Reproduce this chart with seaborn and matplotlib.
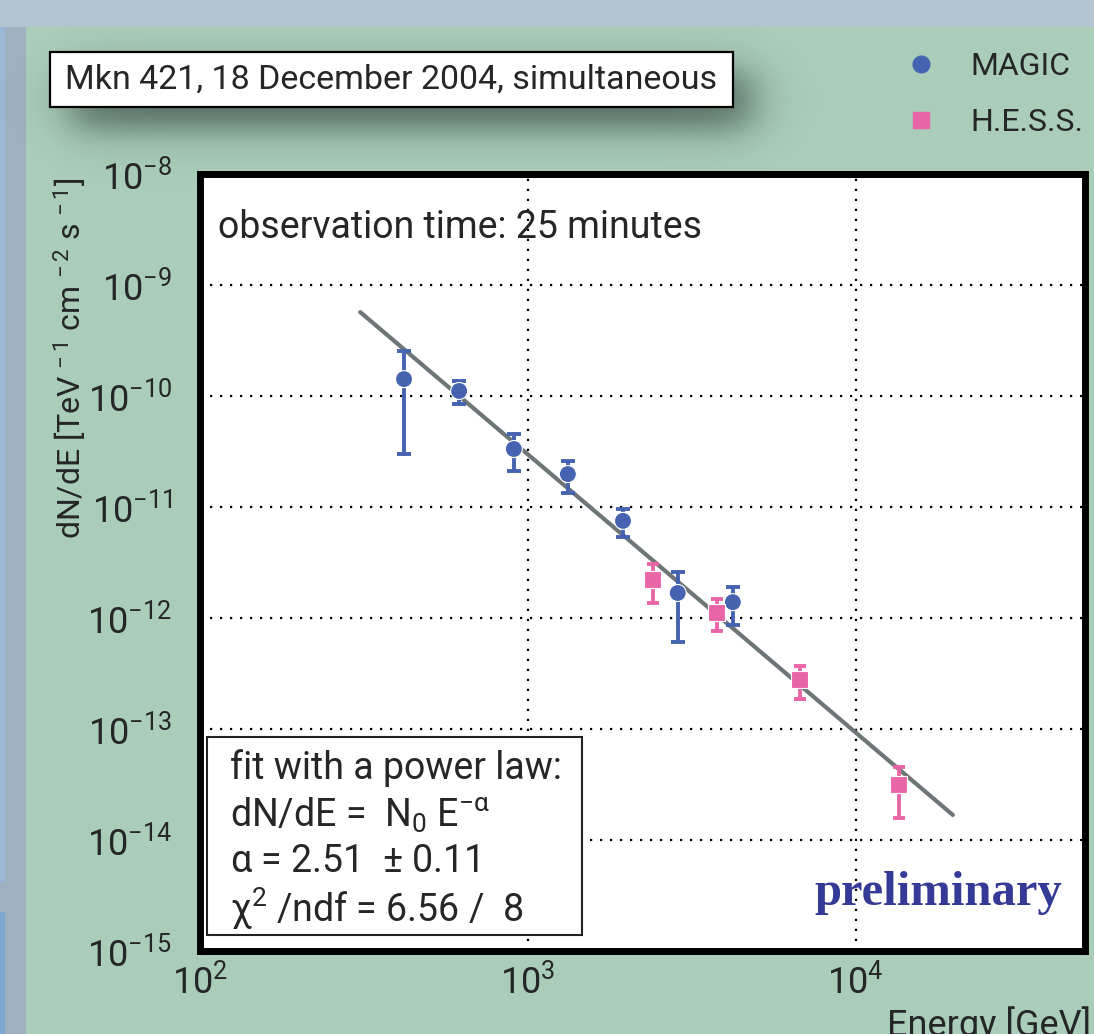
import numpy as np
import pandas as pd
import matplotlib
matplotlib.use("Agg")
import matplotlib.pyplot as plt
import seaborn as sns
from matplotlib.patches import Rectangle
from matplotlib.lines import Line2D
from matplotlib.ticker import LogLocator, FuncFormatter, NullFormatter

# ---------------- data ----------------
magic_energy = [419, 617, 906, 1324, 1950, 2863, 4217]
magic_flux = [1.42e-10, 1.11e-10, 3.33e-11, 1.98e-11, 7.5e-12, 1.68e-12, 1.39e-12]
magic_err_up = [2.54e-10, 1.36e-10, 4.55e-11, 2.6e-11, 9.6e-12, 2.6e-12, 1.9e-12]
magic_err_low = [3.0e-11, 8.5e-11, 2.11e-11, 1.34e-11, 5.37e-12, 6.1e-13, 8.7e-13]

hess_energy = [2404, 3767, 6748, 13500]
hess_flux = [2.24e-12, 1.13e-12, 2.82e-13, 3.13e-14]
hess_err_up = [3.06e-12, 1.48e-12, 3.7e-13, 4.55e-14]
hess_err_low = [1.36e-12, 7.6e-13, 1.86e-13, 1.58e-14]

fit_energy = [308, 19770]
fit_flux = [5.7e-10, 1.68e-14]

series_names = ["MAGIC", "H.E.S.S."]
title_text = "Mkn 421, 18 December 2004, simultaneous"
obs_text = "observation time: 25 minutes"
fit_lines = ["fit with a power law:",
             r"dN/dE =  N$_0$ E$^{-\alpha}$",
             r"$\alpha$ = 2.51  $\pm$ 0.11",
             r"$\chi^2$ /ndf = 6.56 /  8"]

# ---------------- style ----------------
sns.set_theme(style="white")
FONT = "Roboto"
plt.rcParams["font.family"] = [FONT, "DejaVu Sans"]
plt.rcParams["mathtext.fontset"] = "custom"
plt.rcParams["mathtext.rm"] = FONT
plt.rcParams["mathtext.it"] = FONT
plt.rcParams["mathtext.bf"] = FONT
plt.rcParams["mathtext.default"] = "regular"

BLUE = "#4563b0"
PINK = "#e866a8"
GREEN = "#a9cdb9"
W, H = 1094, 1034

fig = plt.figure(figsize=(W / 100, H / 100), dpi=100)
fig.patch.set_facecolor(GREEN)

# background decoration axes in pixel coordinates
bg = fig.add_axes([0, 0, 1, 1], zorder=-10)
bg.set_xlim(0, W)
bg.set_ylim(H, 0)
bg.axis("off")
bg.add_patch(Rectangle((0, 0), W, 27, color="#b3c5d1", lw=0))
bg.add_patch(Rectangle((0, 27), 26, H, color="#9fb1c0", lw=0))
bg.add_patch(Rectangle((0, 27), 5, 855, color="#9ab7d8", lw=0))
bg.add_patch(Rectangle((0, 912), 5, H, color="#7fa9d0", lw=0))
# blurred shadow below the title box
xx = np.linspace(0, W, 548)
yy = np.linspace(0, 200, 101)
X, Y = np.meshgrid(xx, yy)
def soft(v, a, b, s):
    return 1 / (1 + np.exp(-(v - a) / s)) * 1 / (1 + np.exp(-(b - v) / s))
shadow = soft(X, 70, 752, 13) * soft(Y, 72, 128, 11)
rgba = np.zeros(shadow.shape + (4,))
rgba[..., 0] = 0.22; rgba[..., 1] = 0.30; rgba[..., 2] = 0.27
rgba[..., 3] = shadow * 0.8
bg.imshow(rgba, extent=(0, W, 200, 0), aspect="auto", zorder=1)
bg.add_patch(Rectangle((50, 52), 683, 55, facecolor="white", edgecolor="black", lw=1.6, zorder=2))
bg.text(65, 80, title_text, fontsize=24.5, va="center", ha="left", zorder=3)

# ---------------- main axes ----------------
ax = fig.add_axes([200 / W, 1 - 951 / H, 885 / W, 777 / H], zorder=1)
ax.set_facecolor("white")
ax.set_xscale("log")
ax.set_yscale("log")
ax.set_xlim(100, 5e4)
ax.set_ylim(1e-15, 1e-8)

# fit line
fit_df = pd.DataFrame({"E": fit_energy, "F": fit_flux})
sns.lineplot(data=fit_df, x="E", y="F", ax=ax, color="#6e7577", lw=3.0, zorder=2, legend=False)

# error bars
m_err = [np.array(magic_flux) - np.array(magic_err_low), np.array(magic_err_up) - np.array(magic_flux)]
h_err = [np.array(hess_flux) - np.array(hess_err_low), np.array(hess_err_up) - np.array(hess_flux)]
ax.errorbar(magic_energy, magic_flux, yerr=m_err, fmt="none", ecolor=BLUE, elinewidth=2.8, capsize=5, capthick=2.8, zorder=3)
ax.errorbar(hess_energy, hess_flux, yerr=h_err, fmt="none", ecolor=PINK, elinewidth=2.8, capsize=4.5, capthick=2.8, zorder=3)

pts = pd.DataFrame({
    "E": magic_energy + hess_energy,
    "F": magic_flux + hess_flux,
    "exp": [series_names[0]] * len(magic_energy) + [series_names[1]] * len(hess_energy),
})
sns.scatterplot(data=pts, x="E", y="F", hue="exp", style="exp",
                markers={series_names[0]: "o", series_names[1]: "s"},
                palette={series_names[0]: BLUE, series_names[1]: PINK},
                s=150, edgecolor="white", linewidth=0.8, ax=ax, zorder=4, legend=False)

# grid & ticks
ax.grid(True, which="major", color="black", linestyle=(0, (1, 3.5)), lw=1.6)
ax.xaxis.set_major_locator(LogLocator(base=10, numticks=10))
ax.yaxis.set_major_locator(LogLocator(base=10, numticks=10))
ax.xaxis.set_minor_locator(LogLocator(base=10, subs=np.arange(2, 10), numticks=20))
ax.yaxis.set_minor_locator(LogLocator(base=10, subs=np.arange(2, 10), numticks=20))
fmt = FuncFormatter(lambda v, p: r"$10^{%d}$" % int(round(np.log10(v))))
ax.xaxis.set_major_formatter(fmt)
ax.yaxis.set_major_formatter(fmt)
ax.xaxis.set_minor_formatter(NullFormatter())
ax.yaxis.set_minor_formatter(NullFormatter())
ax.tick_params(which="both", direction="in", top=False, right=False, color="black", labelsize=26)
ax.tick_params(axis="x", which="major", length=14, width=1.6, pad=9)
ax.tick_params(axis="x", which="minor", length=7, width=1.6)
ax.tick_params(axis="y", which="major", length=14, width=1.6, pad=20)
ax.tick_params(axis="y", which="minor", length=7, width=1.6)
for sp in ax.spines.values():
    sp.set_color("black")
    sp.set_linewidth(5)
ax.set_xlabel("")
ax.set_ylabel("")

# axis titles
fig.text(70 / W, 1 - 358 / H, r"dN/dE [TeV$^{\,-1}$ cm$^{\,-2}$ s$^{\,-1}$]", rotation=90,
         fontsize=23, ha="center", va="center")
fig.text(1091 / W, 1 - 1006 / H, "Energy [GeV]", fontsize=26, ha="right", va="top")

# texts inside the axes
ax.text(218, 228, obs_text, transform=bg.transData, fontsize=27, va="center", ha="left", zorder=5)
ax.add_patch(Rectangle((207, 737), 375, 198, transform=bg.transData, facecolor="white",
                       edgecolor="#222222", lw=1.5, zorder=6, clip_on=False))
for i, t in enumerate(fit_lines):
    ax.text(230, 768 + i * 47, t, transform=bg.transData, fontsize=27, va="center", ha="left", zorder=7)
ax.text(1062, 893, "preliminary", transform=bg.transData, fontsize=35, color="#343a96",
        family=["Liberation Serif"], weight="bold", va="center", ha="right", zorder=5)

# legend
handles = [Line2D([], [], marker="o", ls="none", color=BLUE, markersize=12),
           Line2D([], [], marker="s", ls="none", color=PINK, markersize=11)]
fig.legend(handles, series_names, loc="upper left", bbox_to_anchor=(905 / W, 1 - 52 / H),
           frameon=False, fontsize=23, handlelength=1.0, handletextpad=1.05,
           labelspacing=0.85, borderaxespad=0, borderpad=0)

fig.savefig("out.png", dpi=100, facecolor=fig.get_facecolor())
